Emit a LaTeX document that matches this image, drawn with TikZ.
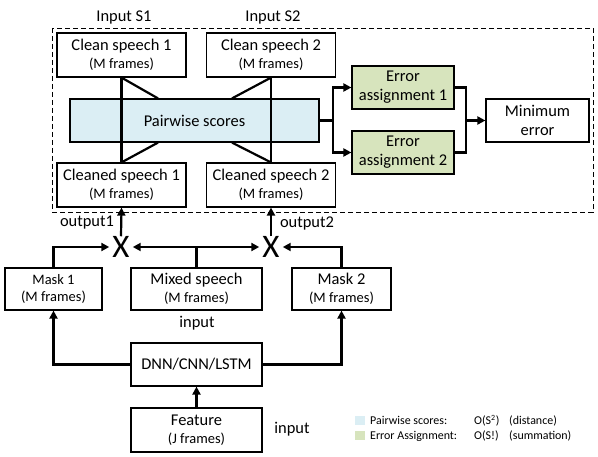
\documentclass[tikz,border=0pt]{standalone}
\usepackage{fontspec}
\setmainfont{Carlito}
\usepackage{tikz}
\usetikzlibrary{arrows.meta,positioning,calc}

\definecolor{pwblue}{HTML}{DBEEF4}
\definecolor{eagreen}{HTML}{D7E4BD}

\begin{document}
\begin{tikzpicture}[x=1bp,y=-1bp,
    blk/.style={draw, line width=1.2bp, align=center, inner sep=0pt,
      font=\fontsize{16.5}{19}\selectfont},
    conn/.style={line width=2.2bp},
    arr/.style={conn, -{Triangle[length=8bp,width=8bp]}},
    lbl/.style={font=\fontsize{16.5}{19}\selectfont},
    leg/.style={anchor=west, inner sep=0pt, font=\fontsize{12}{13}\selectfont}]
        \useasboundingbox (0,0) rectangle (598,457);
        \newcommand{\sub}[1]{\\[-1bp]{\fontsize{14.5}{19}\selectfont #1}}

        % separation stage
        \draw[dashed, line width=0.9bp, dash pattern=on 5bp off 3bp] (52,28) rectangle (593,212);
        \node[lbl] (in1) at (124,17) {Input S1};
        \node[lbl] (in2) at (273,17) {Input S2};

        \node[blk, minimum width=129bp, minimum height=44bp] (cl1) at (121.5,55) {Clean speech 1\sub{(M frames)}};
        \node[blk, minimum width=129bp, minimum height=44bp] (cl2) at (271,55) {Clean speech 2\sub{(M frames)}};
        \node[blk, minimum width=129bp, minimum height=44bp] (cd1) at (121.5,185) {Cleaned speech 1\sub{(M frames)}};
        \node[blk, minimum width=129bp, minimum height=44bp] (cd2) at (271,185) {Cleaned speech 2\sub{(M frames)}};

        \node[blk, fill=pwblue, minimum width=249bp, minimum height=43bp] (pw) at (194.5,120.5) {Pairwise scores};
        \draw[conn] (cl1.south) -- (158,0 |- pw.north);
        \draw[conn] (cd1.north) -- (158,0 |- pw.south);
        \draw[conn] (cl2.south) -- (232,0 |- pw.north);
        \draw[conn] (cd2.north) -- (232,0 |- pw.south);
        \draw[conn] (cl1.south) -- (cd1.north);
        \draw[conn] (cl2.south) -- (cd2.north);

        \node[blk, fill=eagreen, minimum width=102bp, minimum height=43bp] (ea1) at (403,87.5) {Error\\assignment 1};
        \node[blk, fill=eagreen, minimum width=102bp, minimum height=43bp] (ea2) at (403,152.5) {Error\\assignment 2};
        \node[blk, minimum width=103bp, minimum height=43bp] (me) at (537.5,120.5) {Minimum\\error};

        \draw[conn] (pw.east) -- ++(13,0) coordinate (sp);
        \draw[arr] (sp) |- (ea1.west);
        \draw[arr] (sp) |- (ea2.west);
        \coordinate (jn) at (466,120.5);
        \draw[conn] (ea1.east) -| (jn);
        \draw[conn] (ea2.east) -| (jn);
        \draw[arr] (jn) -- (me.west);

        % masking
        \node[font=\fontsize{33}{33}\selectfont, inner sep=0pt] (x1) at (121,247) {X};
        \node[font=\fontsize{33}{33}\selectfont, inner sep=0pt] (x2) at (271,247) {X};
        \draw[arr] (x1.north) -- (cd1.south);
        \draw[arr] (x2.north) -- (cd2.south);
        \node[lbl] (out1) at (87,223) {output1};
        \node[lbl] (out2) at (307,223) {output2};

        \node[blk, minimum width=97bp, minimum height=42bp] (mk1) at (53.5,289) {{\fontsize{14.5}{19}\selectfont Mask 1}\sub{(M frames)}};
        \node[blk, minimum width=131bp, minimum height=42bp] (mx) at (196.5,289) {Mixed speech\sub{(M frames)}};
        \node[blk, minimum width=99bp, minimum height=42bp] (mk2) at (341.5,289) {Mask 2\sub{(M frames)}};
        \node[lbl] (inp1) at (197,323) {input};

        \draw[arr] (mk1.north) |- ([xshift=-3bp]x1.west);
        \draw[arr] (mk2.north) |- ([xshift=3bp]x2.east);
        \draw[conn] (mx.north) -- (mx.north |- x1) coordinate (mxt);
        \draw[arr] (mxt) -- ([xshift=3bp]x1.east);
        \draw[arr] (mxt) -- ([xshift=-3bp]x2.west);

        % network
        \node[blk, minimum width=131bp, minimum height=43bp] (dnn) at (196.5,364.5) {DNN/CNN/LSTM};
        \node[blk, minimum width=131bp, minimum height=44bp] (ft) at (196.5,430) {Feature\sub{(J frames)}};
        \node[lbl] (inp2) at (292,429) {input};
        \draw[arr] (ft.north) -- (dnn.south);
        \draw[arr] (dnn.west) -| (mk1.south);
        \draw[arr] (dnn.east) -| (mk2.south);

        % legend
        \fill[pwblue] (355,416) rectangle (365,425);
        \fill[eagreen] (355,431) rectangle (365,440);
        \node[leg] (lg1) at (370,420.5) {Pairwise scores:};
        \node[leg] (lg2) at (370,436) {Error Assignment:};
        \node[leg] (lc1) at (474,420.5) {O(S\textsuperscript{2})};
        \node[leg] (lc2) at (474,436) {O(S!)};
        \node[leg] (ld1) at (509,420.5) {(distance)};
        \node[leg] (ld2) at (509,436) {(summation)};
      \end{tikzpicture}
\end{document}
